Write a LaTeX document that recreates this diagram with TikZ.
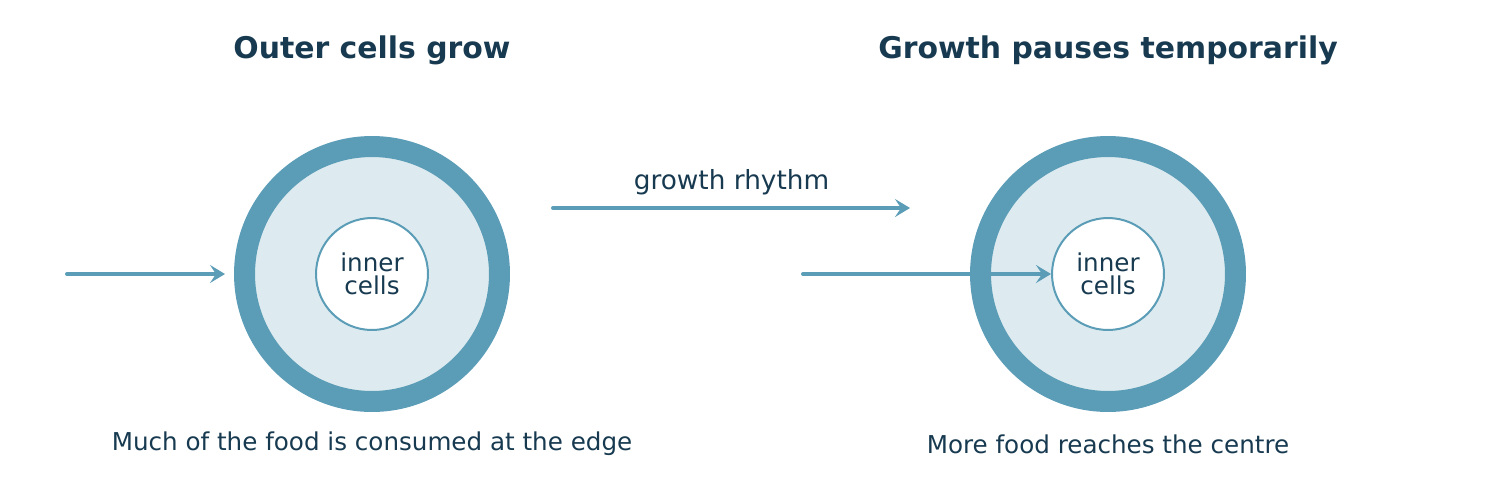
\documentclass[tikz,border=0pt]{standalone}
\usepackage{fontspec}
\setmainfont{DejaVu Sans}
\usetikzlibrary{arrows.meta}
\definecolor{ink}{HTML}{173A50}
\definecolor{ring}{HTML}{5B9DB7}
\definecolor{pale}{HTML}{DDEBF0}
\tikzset{
  title/.style={font=\fontsize{17}{20}\selectfont\bfseries, text=ink},
  caption/.style={font=\fontsize{14}{17}\selectfont, text=ink},
  outer/.style={circle, draw=ring, line width=0.42cm, fill=pale, minimum size=5.1cm, inner sep=0pt},
  inner/.style={circle, draw=ring, line width=0.04cm, fill=white, minimum size=2.24cm, inner sep=0pt, text=ink, align=center, font=\fontsize{14}{15}\selectfont},
  flow/.style={draw=ring, line width=0.08cm, line cap=round, -{Stealth[length=0.3cm, width=0.36cm, inset=0.12cm]}}
}
\begin{document}
\begin{tikzpicture}[x=0.02cm, y=-0.02cm]
  \useasboundingbox (0,0) rectangle (1510,477);
  % left stage
  \node[title] (t1) at (372,50) {Outer cells grow};
  \node[outer] (o1) at (372,274) {};
  \node[inner] (i1) at (372,274) {inner\\[-2pt]cells};
  \node[caption] (c1) at (372,444) {Much of the food is consumed at the edge};
  \coordinate (a1) at (67,274);
  \coordinate (b1) at (225,274);
  \draw[flow] (a1) -- (b1);
  % transition
  \coordinate (m1) at (553,208);
  \coordinate (m2) at (910,208);
  \draw[flow] (m1) -- node[above=3pt, caption, font=\fontsize{15}{18}\selectfont] (r) {growth rhythm} (m2);
  % right stage
  \node[title] (t2) at (1108,50) {Growth pauses temporarily};
  \node[outer] (o2) at (1108,274) {};
  \node[inner] (i2) at (1108,274) {inner\\[-2pt]cells};
  \node[caption] (c2) at (1108,444) {More food reaches the centre};
  \coordinate (a2) at (803,274);
  \draw[flow] (a2) -- (i2.west);
\end{tikzpicture}
\end{document}
